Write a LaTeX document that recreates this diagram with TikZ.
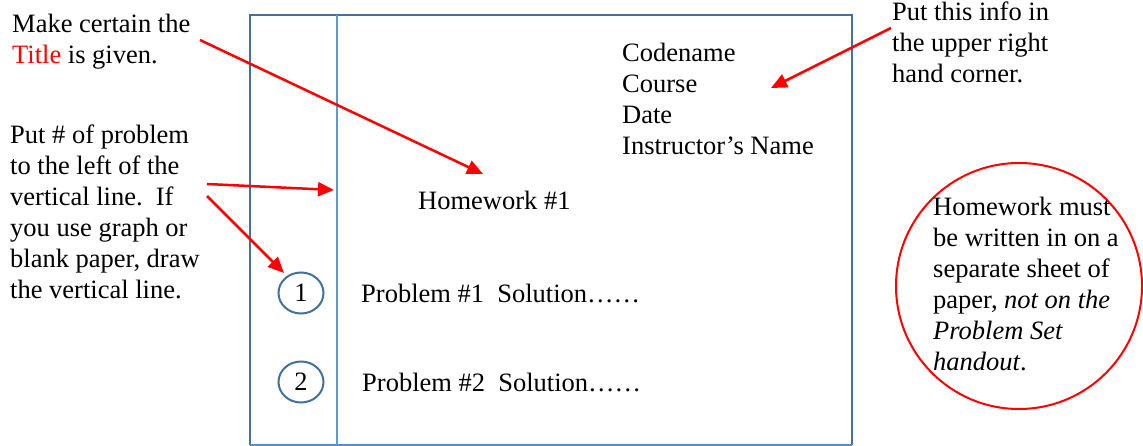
\documentclass[tikz,border=0pt]{standalone}
\usepackage{fontspec}
\setmainfont{Liberation Serif}
\usetikzlibrary{arrows.meta,shapes.geometric}
\definecolor{boxblue}{HTML}{41719C}
\definecolor{lineblue}{HTML}{5B9BD5}
\definecolor{redarrow}{HTML}{FF0000}
\begin{document}
\begin{tikzpicture}[x=1pt,y=-1pt,
  txt/.style={inner sep=0pt,align=left,font=\fontsize{26.5}{31}\selectfont},
  redarr/.style={draw=redarrow,line width=2.5pt,-{Triangle[length=16pt,width=14pt]}},
  numcirc/.style={draw=boxblue,line width=2pt,ellipse,minimum width=45pt,minimum height=41pt,inner sep=0pt,font=\fontsize{26.5}{31}\selectfont}]
\useasboundingbox (0,0) rectangle (1143,446);
% paper
\draw[boxblue,line width=2pt] (250,445) -- (250,15) -- (852,15) -- (852,445);
\draw[lineblue!70!boxblue,line width=1.5pt] (250,445) -- (852,445);
\draw[lineblue,line width=2pt] (337,15) coordinate (vtop) -- (337,445) coordinate (vbot);
% texts on paper
\node[txt,anchor=north west] (info) at (622,61-21.7) {\strut Codename\\Course\\Date\\Instructor’s Name};
\node[txt,anchor=base west] (hw) at (418,210) {Homework \#1};
\node[txt,anchor=base west] (p1) at (361,302) {Problem \#1\ \ Solution……};
\node[txt,anchor=base west] (p2) at (362,391) {Problem \#2\ \ Solution……};
\node[numcirc] (c1) at (301,293) {1};
\node[numcirc] (c2) at (301,382) {2};
% side notes
\node[txt,anchor=north west] (title) at (12,32-21.7) {\strut Make certain the\\\textcolor{redarrow}{Title} is given.};
\node[txt,anchor=north west] (putnum) at (10,143-21.7) {\strut Put \# of problem\\to the left of the\\vertical line.\ \ If\\you use graph or\\blank paper, draw\\the vertical line.};
\node[txt,anchor=north west] (corner) at (892,20-21.7) {\strut Put this info in\\the upper right\\hand corner.};
\node[draw=redarrow,line width=2pt,circle,minimum size=246pt,inner sep=0pt] (must) at (1019,286) {};
\node[txt,anchor=north west] (musttxt) at (933,215-21.7) {\strut Homework must\\be written in on a\\separate sheet of\\paper, \textit{not on the}\\\textit{Problem Set}\\\textit{handout}.};
% arrows
\coordinate (a1s) at (200,40);
\coordinate (a1e) at (483,174);
\coordinate (a2s) at (891,28);
\coordinate (a2e) at (771,88);
\coordinate (a3s) at (207,184);
\coordinate (a3e) at (334,190);
\coordinate (a4s) at (207,196);
\coordinate (a4e) at (284,273);
\draw[redarr] (a1s) -- (a1e);
\draw[redarr] (a2s) -- (a2e);
\draw[redarr] (a3s) -- (a3e);
\draw[redarr] (a4s) -- (a4e);
\end{tikzpicture}
\end{document}
